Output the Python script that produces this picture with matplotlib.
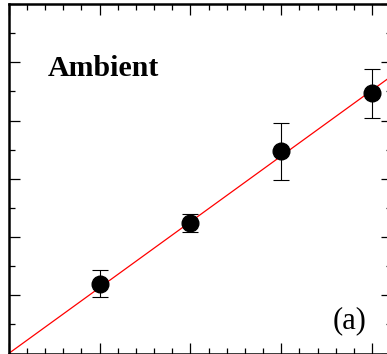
import matplotlib
matplotlib.use("Agg")
import matplotlib.pyplot as plt
from matplotlib.ticker import MultipleLocator
import numpy as np

# measured points (arbitrary units, no tick labels in the original)
x_vals = [1, 2, 3, 4]
y_vals = [1.20, 2.24, 3.47, 4.47]
y_err = [0.23, 0.16, 0.49, 0.42]

# linear fit through origin
fit_slope = 1.13
fit_intercept = 0.0

plt.rcParams['font.family'] = ['Liberation Serif', 'DejaVu Serif']

fig = plt.figure(figsize=(3.87, 3.54), dpi=100)
W, H = 387.0, 354.0
left, right, top, bottom = 8.7, 392.0, 4.0, 353.5
ax = fig.add_axes([left / W, 1 - bottom / H, (right - left) / W, (bottom - top) / H])

x_lim = [0, 4.22]
ax.set_xlim(x_lim)
ax.set_ylim([0, 6])

fx = np.array(x_lim)
ax.plot(fx, fit_slope * fx + fit_intercept, "-", color="red", lw=0.9, zorder=1)

ax.errorbar(x_vals, y_vals, yerr=y_err, fmt="o", color="black", ms=12,
            ecolor="black", elinewidth=0.8, capsize=6, capthick=0.8, zorder=3)

ax.xaxis.set_major_locator(MultipleLocator(1))
ax.xaxis.set_minor_locator(MultipleLocator(0.2))
ax.yaxis.set_major_locator(MultipleLocator(1))
ax.yaxis.set_minor_locator(MultipleLocator(0.5))
ax.tick_params(which="both", direction="in", top=True, right=True,
               labelbottom=False, labelleft=False)
ax.tick_params(which="major", length=8, width=0.9)
ax.tick_params(which="minor", length=4.5, width=0.9)
for s in ax.spines.values():
    s.set_linewidth(1.8)

ax.text(0.43, 4.76, "Ambient", fontsize=21.5, fontweight="bold", ha="left", va="baseline")
ax.text(3.57, 0.44, "(a)", fontsize=22, ha="left", va="baseline")

fig.savefig("out.png", dpi=100)
